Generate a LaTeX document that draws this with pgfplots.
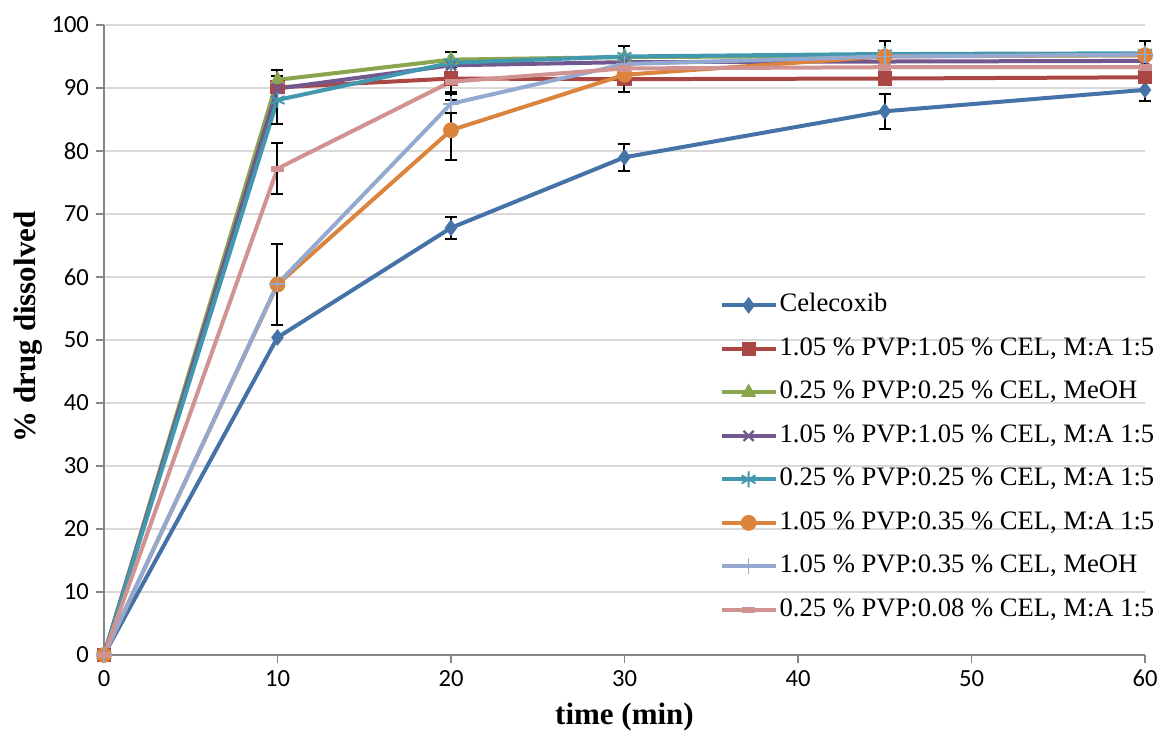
\documentclass[border=0pt]{standalone}
\usepackage{fontspec}
\setmainfont{Liberation Serif}
\newfontfamily\tickfont{Carlito}
\usepackage{pgfplots}
\pgfplotsset{compat=1.18}
\definecolor{c1}{RGB}{69,114,167}
\definecolor{c2}{RGB}{170,70,67}
\definecolor{c3}{RGB}{137,165,78}
\definecolor{c4}{RGB}{113,88,143}
\definecolor{c5}{RGB}{65,152,175}
\definecolor{c6}{RGB}{219,132,61}
\definecolor{c7}{RGB}{147,169,207}
\definecolor{c8}{RGB}{209,147,146}
\definecolor{axisgray}{RGB}{134,134,134}
\definecolor{gridgray}{RGB}{217,217,217}
\pgfplotsset{
  errplot/.style={draw=none, mark=none, forget plot,
    error bars/.cd, y dir=both, y explicit,
    error bar style={draw=black, line width=1pt, solid},
    error mark options={draw=black, line width=1pt, mark size=3pt, rotate=90}},
}
\begin{document}
\begin{tikzpicture}
\begin{axis}[
  width=520.5pt, height=315pt, scale only axis,
  xmin=0, xmax=60, ymin=0, ymax=100,
  xtick={0,10,...,60}, ytick={0,10,...,100},
  axis lines*=left,
  axis line style={draw=axisgray, line width=0.75pt, -},
  ymajorgrids, grid style={draw=gridgray, line width=0.75pt},
  tick align=outside, major tick length=4pt,
  tick style={draw=axisgray, line width=0.75pt},
  /pgf/number format/assume math mode=true,
  ticklabel style={font=\tickfont\fontsize{12.3}{14}\selectfont},
  xlabel={\bfseries time (min)},
  ylabel={\bfseries \% drug dissolved},
  label style={font=\fontsize{15.5}{18}\selectfont},
  xlabel style={at={(axis description cs:0.5,-0.0984)}, anchor=center},
  ylabel style={at={(axis description cs:-0.073,0.521)}, anchor=center},
  clip=false,
  legend cell align=left,
  legend style={at={(axis description cs:0.591,0.5786)}, anchor=north west,
    draw=none, fill=none, inner sep=0pt, row sep=7.25pt,
    font=\fontsize{13.3}{15}\selectfont,
    nodes={inner sep=1pt, text height=9.5pt, text depth=3pt}},
  legend image code/.code={\draw[mark repeat=2, mark phase=2] plot coordinates {(0pt,0pt) (13.5pt,0pt) (27pt,0pt)};},
  every axis plot/.append style={line width=2pt},
]
\addplot[c1, mark=diamond*, mark size=3.8pt, mark options={solid, fill=c1, line width=0.5pt}]
  coordinates {(0,0) (10,50.4) (20,67.8) (30,79.0) (45,86.3) (60,89.7)};
\addlegendentry{Celecoxib}
\addplot[errplot] coordinates {(20,67.8) +- (0,1.8) (30,79.0) +- (0,2.1) (45,86.3) +- (0,2.8) (60,89.7) +- (0,1.7)};

\addplot[c2, mark=square*, mark size=3.3pt, mark options={solid, fill=c2, line width=0.5pt}]
  coordinates {(0,0) (10,90.1) (20,91.5) (30,91.4) (45,91.5) (60,91.7)};
\addlegendentry{1.05 \% PVP:1.05 \% CEL, M:A 1:5}
\addplot[errplot] coordinates {(30,91.4) +- (0,2.1)};

\addplot[c3, mark=triangle*, mark size=3.9pt, mark options={solid, fill=c3, line width=0.5pt}]
  coordinates {(0,0) (10,91.3) (20,94.5) (30,94.9) (45,95.1) (60,95.2)};
\addlegendentry{0.25 \% PVP:0.25 \% CEL, MeOH}
\addplot[errplot] coordinates {(10,91.3) +- (0,1.6) (20,94.5) +- (0,1.2)};

\addplot[c4, mark=x, mark size=3.6pt, mark options={solid, line width=1.2pt}]
  coordinates {(0,0) (10,89.9) (20,93.6) (30,94.1) (45,94.2) (60,94.3)};
\addlegendentry{1.05 \% PVP:1.05 \% CEL, M:A 1:5}

\addplot[c5, mark=asterisk, mark size=4pt, mark options={solid, line width=1pt}]
  coordinates {(0,0) (10,88.1) (20,94.0) (30,95.0) (45,95.4) (60,95.5)};
\addlegendentry{0.25 \% PVP:0.25 \% CEL, M:A 1:5}
\addplot[errplot] coordinates {(10,88.1) +- (0,3.8) (30,95.0) +- (0,1.7)};

\addplot[c6, mark=*, mark size=3.7pt, mark options={solid, fill=c6, line width=0.5pt}]
  coordinates {(0,0) (10,58.8) (20,83.3) (30,92.1) (45,95.0) (60,95.2)};
\addlegendentry{1.05 \% PVP:0.35 \% CEL, M:A 1:5}
\addplot[errplot] coordinates {(10,58.8) +- (0,6.5) (20,83.3) +- (0,4.8) (45,95.0) +- (0,2.4) (60,95.2) +- (0,2.3)};

\addplot[c7, mark=+, mark size=4pt, mark options={solid, line width=0.8pt}]
  coordinates {(0,0) (10,58.9) (20,87.5) (30,93.8) (45,95.0) (60,95.3)};
\addlegendentry{1.05 \% PVP:0.35 \% CEL, MeOH}
\addplot[errplot] coordinates {(20,87.5) +- (0,1.5)};

\addplot[c8, mark=square*, mark size=3pt, mark options={solid, fill=c8, line width=0.3pt, yscale=0.45}]
  coordinates {(0,0) (10,77.2) (20,91.0) (30,93.1) (45,93.3) (60,93.3)};
\addlegendentry{0.25 \% PVP:0.08 \% CEL, M:A 1:5}
\addplot[errplot] coordinates {(10,77.2) +- (0,4.0) (20,91.0) +- (0,1.6)};
\end{axis}
\pgfresetboundingbox
\useasboundingbox (-52pt,-38pt) rectangle (527pt,327.5pt);
\end{tikzpicture}
\end{document}
